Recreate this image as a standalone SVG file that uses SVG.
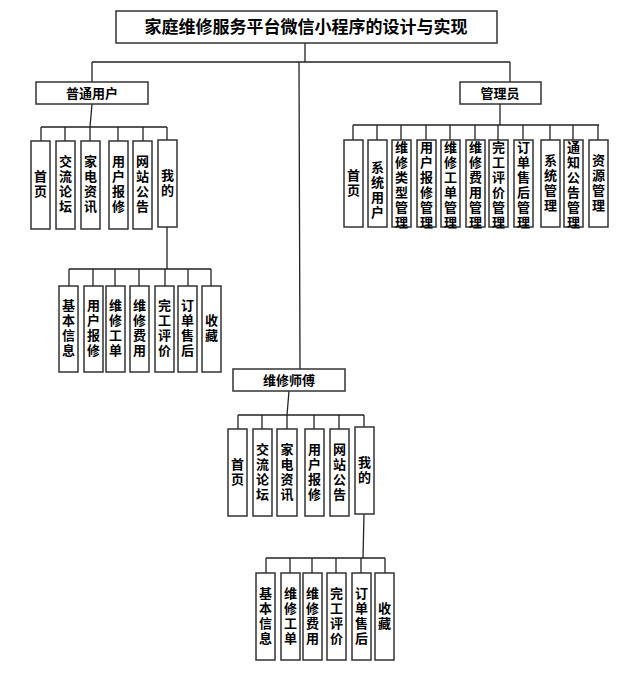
<svg xmlns="http://www.w3.org/2000/svg" width="644" height="674" viewBox="0 0 644 674">
<style>
rect{fill:#fff;stroke:#333;stroke-width:1.5}
text{font-family:"Noto Sans CJK SC","Liberation Sans",sans-serif;font-weight:bold;font-size:13px;fill:#000;text-anchor:middle}
.c path{fill:none;stroke:#222;stroke-width:1.3}
</style>
<rect width="644" height="674" style="fill:#fff;stroke:none"/>
<g class="c" id="connectors">
<path d="M305 43V62M92 62H510M92 62V82M510 62V82M299 62L300 369"/>
<path d="M92 104L90 127M41 127H167M41 127V141M65 127V141M90 127V141M118 127V141M143 127V141M167 127V140"/>
<path d="M167 227V269M69 269H211M69 269V286M93 269V286M115 269V286M139 269V286M165 269V286M188 269V286M211 269V286"/>
<path d="M500 104V125M353 125H599M353 125V140M377 125V140M401 125V140M426 125V140M450 125V140M475 125V140M498 125V140M523 125V140M550 125V140M573 125V140M598 125V140"/>
<path d="M289 391L287 415M238 415H364M238 415V429M262 415V429M287 415V429M314 415V429M339 415V429M364 415V427"/>
<path d="M364 514L363 558M266 558H385M266 558V573M290 558V573M312 558V573M336 558V573M361 558V573M385 558V573"/>
</g>
<g id="title"><rect x="116" y="11" width="381" height="32"/><text x="306" y="33" style="font-size:17px">家庭维修服务平台微信小程序的设计与实现</text></g>
<g id="putong"><rect x="36" y="82" width="112" height="22"/><text x="92" y="98">普通用户</text></g>
<g id="guanli"><rect x="460" y="82" width="81" height="22"/><text x="500" y="98">管理员</text></g>
<g id="shifu"><rect x="233" y="369" width="112" height="22"/><text x="289" y="385">维修师傅</text></g>

<g id="u1"><rect x="31" y="141" width="19" height="88"/><text x="40.5" y="181">首<tspan x="40.5" dy="15">页</tspan></text></g>
<g id="u2"><rect x="56" y="141" width="19" height="88"/><text x="65.5" y="166">交<tspan x="65.5" dy="15">流</tspan><tspan x="65.5" dy="15">论</tspan><tspan x="65.5" dy="15">坛</tspan></text></g>
<g id="u3"><rect x="81" y="141" width="19" height="88"/><text x="90.5" y="166">家<tspan x="90.5" dy="15">电</tspan><tspan x="90.5" dy="15">资</tspan><tspan x="90.5" dy="15">讯</tspan></text></g>
<g id="u4"><rect x="109" y="141" width="19" height="88"/><text x="118.5" y="166">用<tspan x="118.5" dy="15">户</tspan><tspan x="118.5" dy="15">报</tspan><tspan x="118.5" dy="15">修</tspan></text></g>
<g id="u5"><rect x="133" y="141" width="19" height="88"/><text x="142.5" y="166">网<tspan x="142.5" dy="15">站</tspan><tspan x="142.5" dy="15">公</tspan><tspan x="142.5" dy="15">告</tspan></text></g>
<g id="u6"><rect x="158" y="140" width="19" height="87"/><text x="167.5" y="180">我<tspan x="167.5" dy="15">的</tspan></text></g>

<g id="um1"><rect x="59" y="286" width="19" height="86"/><text x="68.5" y="310">基<tspan x="68.5" dy="15">本</tspan><tspan x="68.5" dy="15">信</tspan><tspan x="68.5" dy="15">息</tspan></text></g>
<g id="um2"><rect x="84" y="286" width="19" height="86"/><text x="93.5" y="310">用<tspan x="93.5" dy="15">户</tspan><tspan x="93.5" dy="15">报</tspan><tspan x="93.5" dy="15">修</tspan></text></g>
<g id="um3"><rect x="106" y="286" width="19" height="86"/><text x="115.5" y="310">维<tspan x="115.5" dy="15">修</tspan><tspan x="115.5" dy="15">工</tspan><tspan x="115.5" dy="15">单</tspan></text></g>
<g id="um4"><rect x="130" y="286" width="19" height="86"/><text x="139.5" y="310">维<tspan x="139.5" dy="15">修</tspan><tspan x="139.5" dy="15">费</tspan><tspan x="139.5" dy="15">用</tspan></text></g>
<g id="um5"><rect x="155" y="286" width="19" height="86"/><text x="164.5" y="310">完<tspan x="164.5" dy="15">工</tspan><tspan x="164.5" dy="15">评</tspan><tspan x="164.5" dy="15">价</tspan></text></g>
<g id="um6"><rect x="178" y="286" width="19" height="86"/><text x="187.5" y="310">订<tspan x="187.5" dy="15">单</tspan><tspan x="187.5" dy="15">售</tspan><tspan x="187.5" dy="15">后</tspan></text></g>
<g id="um7"><rect x="202" y="286" width="19" height="86"/><text x="211.5" y="325">收<tspan x="211.5" dy="15">藏</tspan></text></g>

<g id="a1"><rect x="344" y="140" width="19" height="87"/><text x="353.5" y="180">首<tspan x="353.5" dy="15">页</tspan></text></g>
<g id="a2"><rect x="368" y="140" width="19" height="87"/><text x="377.5" y="172">系<tspan x="377.5" dy="15">统</tspan><tspan x="377.5" dy="15">用</tspan><tspan x="377.5" dy="15">户</tspan></text></g>
<g id="a3"><rect x="392" y="140" width="19" height="87"/><text x="401.5" y="152">维<tspan x="401.5" dy="15">修</tspan><tspan x="401.5" dy="15">类</tspan><tspan x="401.5" dy="15">型</tspan><tspan x="401.5" dy="15">管</tspan><tspan x="401.5" dy="15">理</tspan></text></g>
<g id="a4"><rect x="417" y="140" width="19" height="87"/><text x="426.5" y="152">用<tspan x="426.5" dy="15">户</tspan><tspan x="426.5" dy="15">报</tspan><tspan x="426.5" dy="15">修</tspan><tspan x="426.5" dy="15">管</tspan><tspan x="426.5" dy="15">理</tspan></text></g>
<g id="a5"><rect x="441" y="140" width="19" height="87"/><text x="450.5" y="152">维<tspan x="450.5" dy="15">修</tspan><tspan x="450.5" dy="15">工</tspan><tspan x="450.5" dy="15">单</tspan><tspan x="450.5" dy="15">管</tspan><tspan x="450.5" dy="15">理</tspan></text></g>
<g id="a6"><rect x="466" y="140" width="19" height="87"/><text x="475.5" y="152">维<tspan x="475.5" dy="15">修</tspan><tspan x="475.5" dy="15">费</tspan><tspan x="475.5" dy="15">用</tspan><tspan x="475.5" dy="15">管</tspan><tspan x="475.5" dy="15">理</tspan></text></g>
<g id="a7"><rect x="489" y="140" width="19" height="87"/><text x="498.5" y="152">完<tspan x="498.5" dy="15">工</tspan><tspan x="498.5" dy="15">评</tspan><tspan x="498.5" dy="15">价</tspan><tspan x="498.5" dy="15">管</tspan><tspan x="498.5" dy="15">理</tspan></text></g>
<g id="a8"><rect x="514" y="140" width="19" height="87"/><text x="523.5" y="152">订<tspan x="523.5" dy="15">单</tspan><tspan x="523.5" dy="15">售</tspan><tspan x="523.5" dy="15">后</tspan><tspan x="523.5" dy="15">管</tspan><tspan x="523.5" dy="15">理</tspan></text></g>
<g id="a9"><rect x="541" y="140" width="19" height="87"/><text x="550.5" y="165">系<tspan x="550.5" dy="15">统</tspan><tspan x="550.5" dy="15">管</tspan><tspan x="550.5" dy="15">理</tspan></text></g>
<g id="a10"><rect x="564" y="140" width="19" height="87"/><text x="573.5" y="152">通<tspan x="573.5" dy="15">知</tspan><tspan x="573.5" dy="15">公</tspan><tspan x="573.5" dy="15">告</tspan><tspan x="573.5" dy="15">管</tspan><tspan x="573.5" dy="15">理</tspan></text></g>
<g id="a11"><rect x="589" y="140" width="19" height="87"/><text x="598.5" y="165">资<tspan x="598.5" dy="15">源</tspan><tspan x="598.5" dy="15">管</tspan><tspan x="598.5" dy="15">理</tspan></text></g>

<g id="s1"><rect x="228" y="429" width="19" height="87"/><text x="237.5" y="469">首<tspan x="237.5" dy="15">页</tspan></text></g>
<g id="s2"><rect x="253" y="429" width="19" height="87"/><text x="262.5" y="454">交<tspan x="262.5" dy="15">流</tspan><tspan x="262.5" dy="15">论</tspan><tspan x="262.5" dy="15">坛</tspan></text></g>
<g id="s3"><rect x="277" y="429" width="20" height="87"/><text x="287" y="454">家<tspan x="287" dy="15">电</tspan><tspan x="287" dy="15">资</tspan><tspan x="287" dy="15">讯</tspan></text></g>
<g id="s4"><rect x="305" y="429" width="19" height="87"/><text x="314.5" y="454">用<tspan x="314.5" dy="15">户</tspan><tspan x="314.5" dy="15">报</tspan><tspan x="314.5" dy="15">修</tspan></text></g>
<g id="s5"><rect x="330" y="429" width="19" height="87"/><text x="339.5" y="454">网<tspan x="339.5" dy="15">站</tspan><tspan x="339.5" dy="15">公</tspan><tspan x="339.5" dy="15">告</tspan></text></g>
<g id="s6"><rect x="355" y="427" width="19" height="87"/><text x="364.5" y="467">我<tspan x="364.5" dy="15">的</tspan></text></g>

<g id="sm1"><rect x="256" y="573" width="19" height="87"/><text x="265.5" y="598">基<tspan x="265.5" dy="15">本</tspan><tspan x="265.5" dy="15">信</tspan><tspan x="265.5" dy="15">息</tspan></text></g>
<g id="sm2"><rect x="281" y="573" width="19" height="87"/><text x="290.5" y="598">维<tspan x="290.5" dy="15">修</tspan><tspan x="290.5" dy="15">工</tspan><tspan x="290.5" dy="15">单</tspan></text></g>
<g id="sm3"><rect x="303" y="573" width="19" height="87"/><text x="312.5" y="598">维<tspan x="312.5" dy="15">修</tspan><tspan x="312.5" dy="15">费</tspan><tspan x="312.5" dy="15">用</tspan></text></g>
<g id="sm4"><rect x="327" y="573" width="19" height="87"/><text x="336.5" y="598">完<tspan x="336.5" dy="15">工</tspan><tspan x="336.5" dy="15">评</tspan><tspan x="336.5" dy="15">价</tspan></text></g>
<g id="sm5"><rect x="352" y="573" width="19" height="87"/><text x="361.5" y="598">订<tspan x="361.5" dy="15">单</tspan><tspan x="361.5" dy="15">售</tspan><tspan x="361.5" dy="15">后</tspan></text></g>
<g id="sm6"><rect x="375" y="573" width="19" height="87"/><text x="384.5" y="613">收<tspan x="384.5" dy="15">藏</tspan></text></g>
</svg>
